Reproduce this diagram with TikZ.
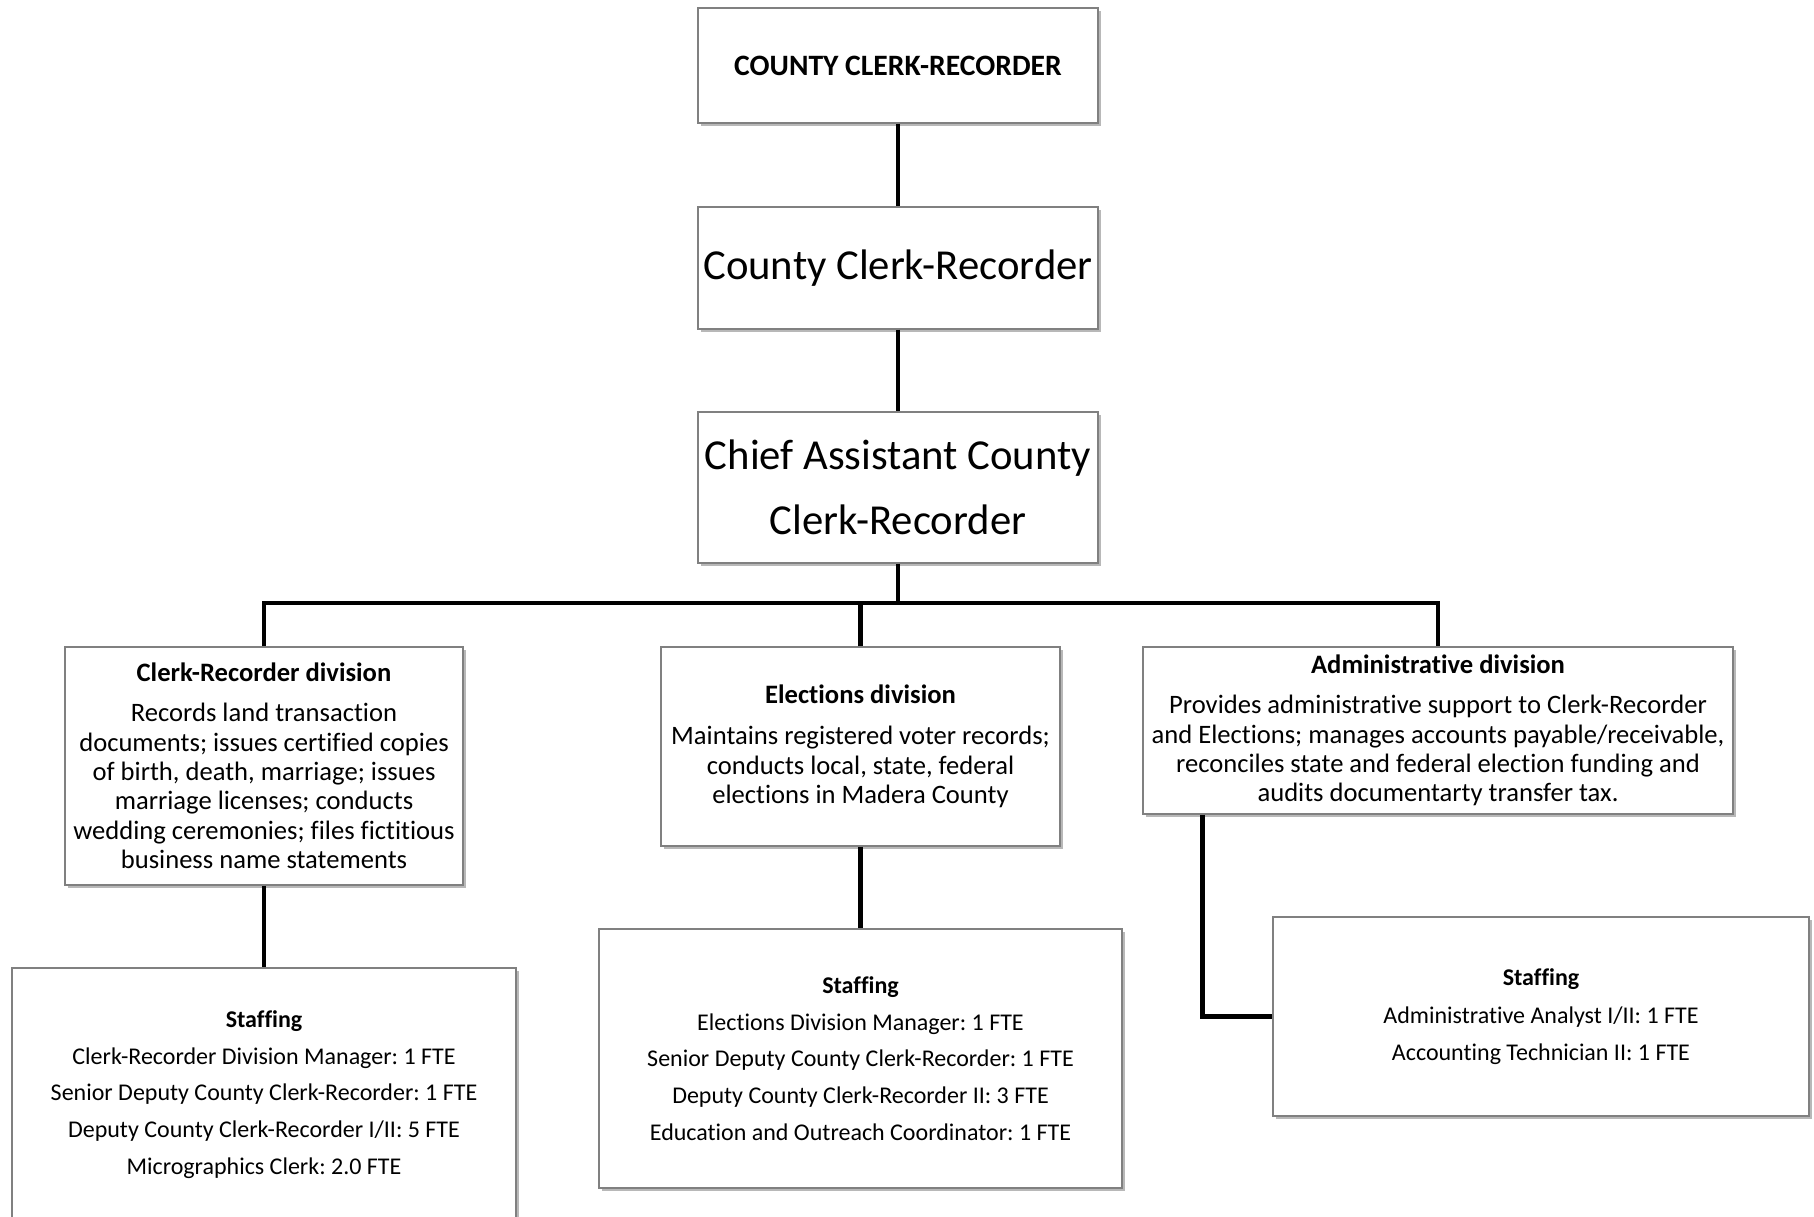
\documentclass[tikz,border=0pt]{standalone}
\usepackage{fontspec}
\setmainfont{Carlito}[Ligatures=NoCommon]
\usetikzlibrary{shadows}
\frenchspacing
\begin{document}
\begin{tikzpicture}[x=1pt,y=-1pt,
  box/.style={draw=black!50, line width=1.1pt, fill=white, align=center, inner sep=0pt,
    drop shadow={shadow xshift=2.5pt, shadow yshift=-2.5pt, fill=black, opacity=0.28}},
  titlefont/.style={font=\fontsize{29.6}{36}\selectfont\bfseries},
  bigfont/.style={font=\fontsize{42.7}{65}\selectfont},
  divfont/.style={font=\fontsize{26.6}{29.4}\selectfont},
  stafffont/.style={font=\fontsize{24}{36.7}\selectfont},
  link/.style={line width=4.2pt, line join=miter}]
\useasboundingbox (0,0) rectangle (1814,1216);
\clip (0,0) rectangle (1814,1216);

% head of the office
\node[box, titlefont, minimum width=400pt, minimum height=115pt] (top) at (898,65.5)
  {COUNTY CLERK-RECORDER};
\node[box, font=\fontsize{42.7}{50}\selectfont, minimum width=400pt, minimum height=122pt] (mid) at (898,268)
  {County Clerk-Recorder};
\node[box, bigfont, minimum width=400pt, minimum height=151pt] (chief) at (898,487.5)
  {Chief Assistant County\\Clerk-Recorder};

% divisions
\node[box, divfont, minimum width=398pt, minimum height=238pt] (crdiv) at (264,766)
  {\textbf{Clerk-Recorder division}\\[10.6pt]
   Records land transaction\\
   documents; issues certified copies\\
   of birth, death, marriage; issues\\
   marriage licenses; conducts\\
   wedding ceremonies; files fictitious\\
   business name statements};
\node[box, divfont, minimum width=399pt, minimum height=199pt] (eldiv) at (860.5,746.5)
  {\textbf{Elections division}\\[11.5pt]
   Maintains registered voter records;\\
   conducts local, state, federal\\
   elections in Madera County};
\node[box, divfont, minimum width=590pt, minimum height=167pt] (addiv) at (1438,730.5)
  {\textbf{Administrative division}\\[10.6pt]
   Provides administrative support to Clerk-Recorder\\
   and Elections; manages accounts payable/receivable,\\
   reconciles state and federal election funding and\\
   audits documentarty transfer tax.};

% staffing
\node[box, stafffont, minimum width=504pt, minimum height=253pt] (crstaff) at (264,1094.5)
  {\textbf{Staffing}\\
   Clerk-Recorder Division Manager: 1 FTE\\
   Senior Deputy County Clerk-Recorder: 1 FTE\\
   Deputy County Clerk-Recorder I/II: 5 FTE\\
   Micrographics Clerk: 2.0 FTE};
\node[box, stafffont, minimum width=523pt, minimum height=259pt] (elstaff) at (860.5,1058.5)
  {\textbf{Staffing}\\
   Elections Division Manager: 1 FTE\\
   Senior Deputy County Clerk-Recorder: 1 FTE\\
   Deputy County Clerk-Recorder II: 3 FTE\\
   Education and Outreach Coordinator: 1 FTE};
\node[box, stafffont, minimum width=536pt, minimum height=199pt] (adstaff) at (1541,1016.5)
  {\textbf{Staffing}\\[1pt]
   Administrative Analyst I/II: 1 FTE\\
   Accounting Technician II: 1 FTE};

% reporting lines
\coordinate (bar) at (898,603);
\draw[link] (top.south) -- (mid.north);
\draw[link] (mid.south) -- (chief.north);
\draw[link] (chief.south) -- (bar);
\draw[link] (crdiv.north) |- (bar) -| (addiv.north);
\draw[link] (eldiv.north) -- (eldiv.north |- bar);
\draw[link] (crdiv.south) -- (crstaff.north);
\draw[link] (eldiv.south) -- (elstaff.north);
\draw[link] ([xshift=60pt]addiv.south west) |- (adstaff.west);
\end{tikzpicture}
\end{document}
